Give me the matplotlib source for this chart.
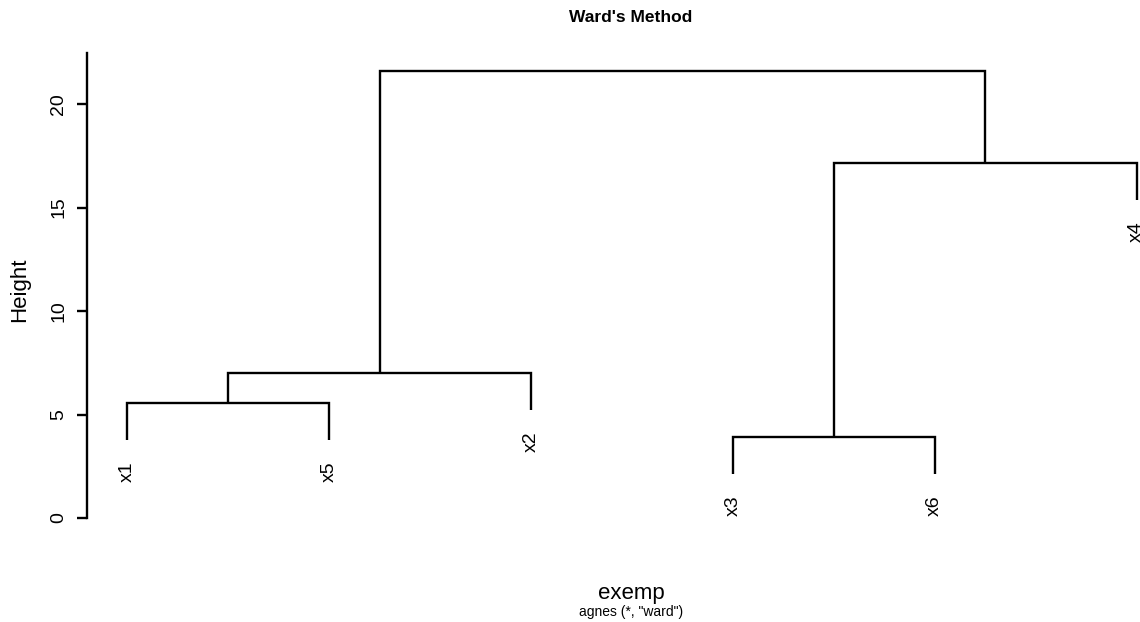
"""Ward's Method dendrogram (agnes, 6 observations) recreated with matplotlib."""

import matplotlib

matplotlib.use("Agg")
import matplotlib.pyplot as plt

plt.rcParams["font.family"] = ["Liberation Sans", "DejaVu Sans"]

# Leaf order along the x axis.
LEAF_LABELS = ["x1", "x5", "x2", "x3", "x6", "x4"]
# Merges: (left child, right child, height); children are leaf names or merge indices.
MERGES = [
    ("x1", "x5", 5.57),
    ("x3", "x6", 3.93),
    (0, "x2", 7.02),
    (1, "x4", 17.16),
    (2, 3, 21.6),
]
HANG = 1.8
Y_TICKS = [0, 5, 10, 15, 20]

W, H = 1140, 622
fig = plt.figure(figsize=(W / 100, H / 100), dpi=100)
# Plot region runs past the right edge of the figure, as in the reference.
ax = fig.add_axes([87 / W, (H - 540) / H, 1090 / W, 500 / H])
ax.set_xlim(0.8, 6.2)
ax.set_ylim((518 - 540) / 20.7, (518 - 40) / 20.7)

leaf_x = {name: i + 1 for i, name in enumerate(LEAF_LABELS)}
node_x = {}
node_h = {}


def child_pos(c):
    if isinstance(c, int):
        return node_x[c], node_h[c]
    return leaf_x[c], None


lw = 1.7
for idx, (a, b, h) in enumerate(MERGES):
    xa, ha = child_pos(a)
    xb, hb = child_pos(b)
    # 叶子的竖线下端 = 合并高度 - hang
    ya = ha if ha is not None else h - HANG
    yb = hb if hb is not None else h - HANG
    ax.plot([xa, xa, xb, xb], [ya, h, h, yb], color="black", lw=lw,
            solid_joinstyle="miter", solid_capstyle="butt", clip_on=False)
    for c, y0 in ((a, ya), (b, yb)):
        if not isinstance(c, int):
            ax.annotate(c, (leaf_x[c], y0), xytext=(0, -15.5), textcoords="offset points",
                        rotation=90, ha="center", va="top", fontsize=14,
                        annotation_clip=False)
    node_x[idx] = (xa + xb) / 2
    node_h[idx] = h

for s in ("top", "right", "bottom"):
    ax.spines[s].set_visible(False)
ax.spines["left"].set_bounds(0, (518 - 53) / 20.7)
ax.spines["left"].set_linewidth(lw)
ax.set_xticks([])
ax.set_yticks(Y_TICKS)
ax.set_yticklabels([str(t) for t in Y_TICKS], rotation=90, va="center", fontsize=14)
ax.tick_params(axis="y", length=7.2, width=lw, pad=7)

fig.text(20 / W, 1 - 290 / H, "Height", rotation=90, ha="center", va="center", fontsize=16)
fig.text(631 / W, 1 - 17 / H, "Ward's Method", ha="center", va="center",
         fontsize=12.5, fontweight="bold")
fig.text(631 / W, 1 - 594 / H, "exemp", ha="center", va="center", fontsize=16)
fig.text(631 / W, 1 - 612 / H, 'agnes (*, "ward")', ha="center", va="center", fontsize=10)

fig.savefig("out.png", dpi=100)
